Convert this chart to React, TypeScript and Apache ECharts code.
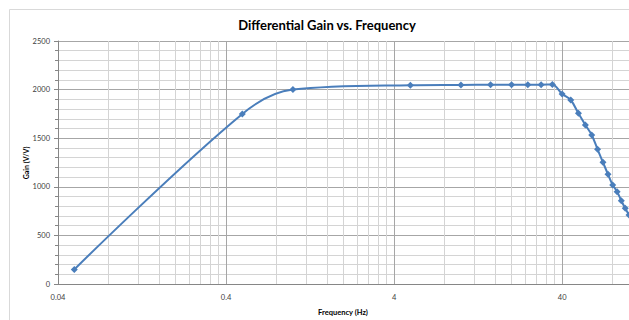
import React, { useEffect, useRef } from "react";
import * as echarts from "echarts";

// Frequency (Hz) and differential gain (V/V)
const freqHz = [0.05, 0.5, 1, 5, 10, 15, 20, 25, 30, 35, 40, 45, 50, 55, 60, 65, 70, 75, 80, 85, 90, 95, 100];
const gainVV = [150, 1750, 2000, 2045, 2048, 2050, 2050, 2050, 2050, 2053, 1955, 1893, 1756, 1636, 1533, 1386, 1252, 1128, 1019, 950, 857, 779, 710];

// Axis ticks
const xMajorTicks = [0.04, 0.4, 4, 40];
const xMinorTicks = [
  0.08, 0.12, 0.16, 0.2, 0.24, 0.28, 0.32, 0.36,
  0.8, 1.2, 1.6, 2, 2.4, 2.8, 3.2, 3.6,
  8, 12, 16, 20, 24, 28, 32, 36,
  80,
];
const yMin = 0;
const yMax = 2500;
const yStep = 500;

const TITLE = "Differential Gain vs. Frequency";
const X_NAME = "Frequency (Hz)";
const Y_NAME = "Gain (V/V)";

const FONT = "Lato, 'Open Sans', sans-serif";
const BLUE = "#4A7EBB";

function fmt(v: number) {
  return String(Number(Number(v).toPrecision(6)));
}

export default function App() {
  const ref = useRef<HTMLDivElement>(null);
  useEffect(() => {
    if (!ref.current) return;
    const chart = echarts.init(ref.current, undefined, { renderer: "svg" });
    const data = freqHz.map((f, i) => [f, gainVV[i]]);
    chart.setOption({
      animation: false,
      backgroundColor: "#ffffff",
      graphic: [
        {
          type: "rect",
          z: -10,
          silent: true,
          shape: { x: 9.5, y: 9.5, width: 640, height: 330 },
          style: { fill: "#ffffff", stroke: "#d9d9d9", lineWidth: 1 },
        },
        {
          type: "text",
          x: 327,
          y: 25,
          z: 10,
          style: {
            text: TITLE,
            align: "center",
            verticalAlign: "middle",
            fontFamily: FONT,
            fontWeight: "bold",
            fontSize: 13,
            fill: "#000000",
          },
        },
        {
          type: "text",
          x: 343,
          y: 312,
          z: 10,
          style: {
            text: X_NAME,
            align: "center",
            verticalAlign: "middle",
            fontFamily: FONT,
            fontWeight: "bold",
            fontSize: 7.5,
            fill: "#000000",
          },
        },
        {
          type: "text",
          x: 26,
          y: 163,
          rotation: Math.PI / 2,
          z: 10,
          style: {
            text: Y_NAME,
            align: "center",
            verticalAlign: "middle",
            fontFamily: FONT,
            fontWeight: "bold",
            fontSize: 7,
            fill: "#000000",
          },
        },
      ],
      grid: { left: 58, top: 41, width: 572, height: 243, containLabel: false },
      xAxis: [
        {
          type: "log",
          logBase: 10,
          min: 0.04,
          max: 100,
          gridIndex: 0,
          axisLine: { show: true, lineStyle: { color: "#868686", width: 1 } },
          axisTick: { show: false, customValues: xMajorTicks },
          axisLabel: {
            customValues: xMajorTicks,
            formatter: (v: number) => fmt(v),
            fontFamily: FONT,
            fontSize: 7.5,
            color: "#404040",
            margin: 9,
          },
          splitLine: { show: true, lineStyle: { color: "#a6a6a6", width: 1 } },
          minorTick: { show: false },
          minorSplitLine: { show: false },
        },
        {
          type: "log",
          logBase: 10,
          min: 0.04,
          max: 100,
          gridIndex: 0,
          position: "bottom",
          axisLine: { show: false },
          axisTick: { show: false, customValues: xMinorTicks },
          axisLabel: { show: false, customValues: xMinorTicks },
          splitLine: { show: true, lineStyle: { color: "#d4d4d4", width: 1 } },
        },
      ],
      yAxis: {
        type: "value",
        min: yMin,
        max: yMax,
        interval: yStep,
        axisLine: { show: true, lineStyle: { color: "#868686", width: 1 } },
        axisTick: { show: true, inside: false, length: 4, lineStyle: { color: "#868686" } },
        minorTick: { show: true, splitNumber: 5, length: 3, lineStyle: { color: "#868686" } },
        axisLabel: {
          fontFamily: FONT,
          fontSize: 7.5,
          color: "#404040",
          margin: 8,
          formatter: (v: number) => String(v),
        },
        splitLine: { show: true, lineStyle: { color: "#a6a6a6", width: 1 } },
        minorSplitLine: { show: true, lineStyle: { color: "#d4d4d4", width: 1 } },
      },
      series: [
        {
          type: "line",
          xAxisIndex: 0,
          data,
          smooth: 0.35,
          symbol: "diamond",
          symbolSize: 7,
          lineStyle: { color: BLUE, width: 2 },
          itemStyle: { color: BLUE },
          clip: true,
          z: 5,
        },
      ],
    });
    return () => chart.dispose();
  }, []);
  return (
    <div
      ref={ref}
      style={{ position: "fixed", left: 0, top: 0, width: 629, height: 320, overflow: "hidden" }}
    />
  );
}
